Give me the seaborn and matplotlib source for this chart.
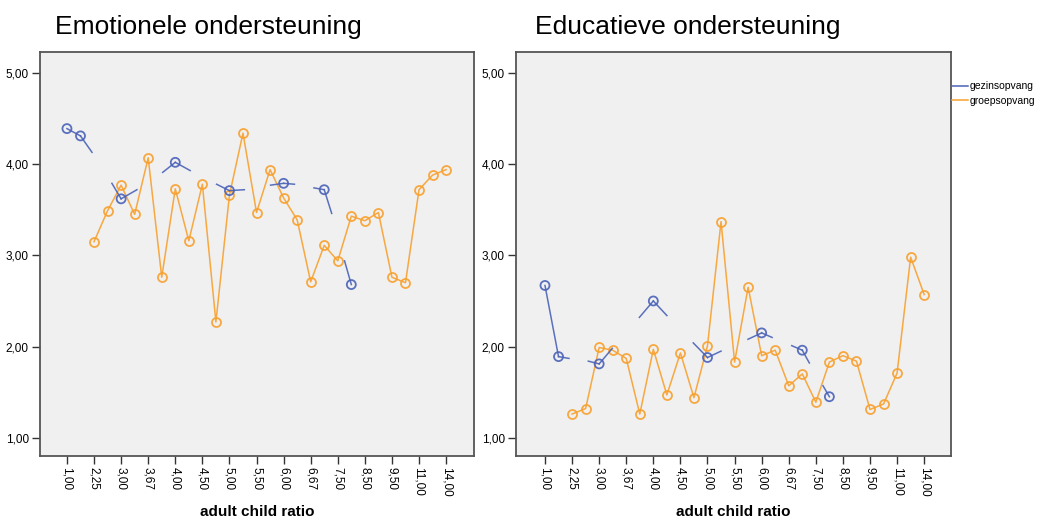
import numpy as np
import matplotlib
matplotlib.use('Agg')
import matplotlib.pyplot as plt
import seaborn as sns
from matplotlib.lines import Line2D

nan = np.nan

# adult child ratio categories (only every other one is labelled on the axis)
ratio_labels = ['1,00', '2,00', '2,25', '2,50', '3,00', '3,33', '3,67', '3,75', '4,00', '4,33',
                '4,50', '4,67', '5,00', '5,33', '5,50', '5,67', '6,00', '6,33', '6,67', '7,00',
                '7,50', '8,00', '8,50', '9,00', '9,50', '10,00', '11,00', '12,00', '14,00']

# Emotionele ondersteuning
emo_gezin = [4.39, 4.31, nan, nan, 3.62, nan, nan, nan, 4.02, nan,
             nan, nan, 3.71, nan, nan, nan, 3.79, nan, nan, 3.72,
             nan, 2.68, nan, nan, nan, nan, nan, nan, nan]
emo_groep = [nan, nan, 3.15, 3.49, 3.77, 3.45, 4.07, 2.76, 3.73, 3.16,
             3.78, 2.27, 3.66, 4.34, 3.47, 3.94, 3.63, 3.39, 2.71, 3.11,
             2.94, 3.43, 3.38, 3.47, 2.76, 2.70, 3.72, 3.88, 3.94]
# loose line pieces of gezinsopvang (from category, to position, to value)
emo_stub_from = [1, 4, 4, 8, 8, 12, 12, 16, 16, 19, 19, 21]
emo_stub_pos = [1.85, 3.32, 5.17, 7.07, 9.10, 11.05, 13.10, 15.04, 16.80, 18.24, 19.55, 20.50]
emo_stub_val = [4.13, 3.79, 3.72, 3.91, 3.93, 3.78, 3.72, 3.77, 3.78, 3.74, 3.46, 2.94]

# Educatieve ondersteuning
edu_gezin = [2.67, 1.89, nan, nan, 1.81, nan, nan, nan, 2.50, nan,
             nan, nan, 1.88, nan, nan, nan, 2.15, nan, nan, 1.96,
             nan, 1.45, nan, nan, nan, nan, nan, nan, nan]
edu_groep = [nan, nan, 1.26, 1.32, 1.99, 1.96, 1.87, 1.26, 1.97, 1.47,
             1.93, 1.44, 2.01, 3.37, 1.83, 2.65, 1.90, 1.96, 1.57, 1.70,
             1.39, 1.83, 1.90, 1.84, 1.31, 1.37, 1.71, 2.98, 2.57]
edu_stub_from = [1, 4, 4, 8, 8, 12, 12, 16, 16, 19, 19, 21]
edu_stub_pos = [1.77, 3.20, 4.97, 6.97, 9.00, 10.95, 13.00, 14.99, 16.77, 18.22, 19.52, 20.53]
edu_stub_val = [1.87, 1.84, 1.98, 2.32, 2.34, 2.04, 1.95, 2.08, 2.10, 2.01, 1.82, 1.57]

blue = '#4a62b8'
orange = '#f8a02e'
frame = '#555555'

plt.rcParams['font.family'] = ['Liberation Sans', 'DejaVu Sans']

fig = plt.figure(figsize=(10.54, 5.21), dpi=100)
ax1 = fig.add_axes([40 / 1054, 1 - 456 / 521, 434 / 1054, 404 / 521])
ax2 = fig.add_axes([516 / 1054, 1 - 456 / 521, 435 / 1054, 404 / 521])


def draw_panel(ax, gezin, groep, stub_from, stub_pos, stub_val, xlim):
    x = np.arange(len(ratio_labels))
    gezin = np.array(gezin, dtype=float)
    groep = np.array(groep, dtype=float)

    # groepsopvang: continuous line with open circles
    ok = ~np.isnan(groep)
    sns.lineplot(x=x[ok], y=groep[ok], ax=ax, color=orange, lw=1.1, marker='o',
                 markersize=6.5, markerfacecolor='none', markeredgecolor=orange,
                 markeredgewidth=1.3, alpha=0.9)

    # gezinsopvang: broken line, loose pieces, open circles
    ax.plot(x, gezin, color=blue, lw=1.1, alpha=0.9)
    for f, p, v in zip(stub_from, stub_pos, stub_val):
        ax.plot([f, p], [gezin[f], v], color=blue, lw=1.1, alpha=0.9)
    okb = ~np.isnan(gezin)
    sns.scatterplot(x=x[okb], y=gezin[okb], ax=ax, s=42, facecolor='none',
                    edgecolor=blue, linewidth=1.3, alpha=0.9, zorder=3)

    ax.set_facecolor('#f0f0f0')
    ax.set_xlim(*xlim)
    ax.set_ylim(0.80, 5.23)
    ax.set_xticks(x[::2])
    ax.set_xticklabels(ratio_labels[::2], rotation=270, fontsize=8.5, va='top', ha='center')
    ax.set_yticks([1, 2, 3, 4, 5])
    ax.set_yticklabels(['1,00', '2,00', '3,00', '4,00', '5,00'], fontsize=8.5)
    ax.tick_params(direction='out', length=6, width=1, color='#333333', pad=2)
    for s in ax.spines.values():
        s.set_color(frame)
        s.set_linewidth(1.3)
    ax.set_xlabel('adult child ratio', fontsize=11, fontweight='bold')
    ax.xaxis.set_label_coords(0.5, -0.122)
    ax.set_ylabel('')


draw_panel(ax1, emo_gezin, emo_groep, emo_stub_from, emo_stub_pos, emo_stub_val, (-1.99, 30.06))
draw_panel(ax2, edu_gezin, edu_groep, edu_stub_from, edu_stub_pos, edu_stub_val, (-2.14, 29.98))

fig.text(55 / 1054, 1 - 27 / 521, 'Emotionele ondersteuning', fontsize=19, ha='left', va='center')
fig.text(535 / 1054, 1 - 27 / 521, 'Educatieve ondersteuning', fontsize=19, ha='left', va='center')

handles = [Line2D([], [], color=blue, lw=1.1), Line2D([], [], color=orange, lw=1.1)]
ax2.legend(handles, ['gezinsopvang', 'groepsopvang'], loc='upper left',
           bbox_to_anchor=(1.0, 0.93), frameon=False, fontsize=7.5,
           handlelength=1.5, handletextpad=0.15, borderaxespad=0.1,
           labelspacing=0.45, borderpad=0)

fig.savefig('out.png', dpi=100, facecolor='white')
